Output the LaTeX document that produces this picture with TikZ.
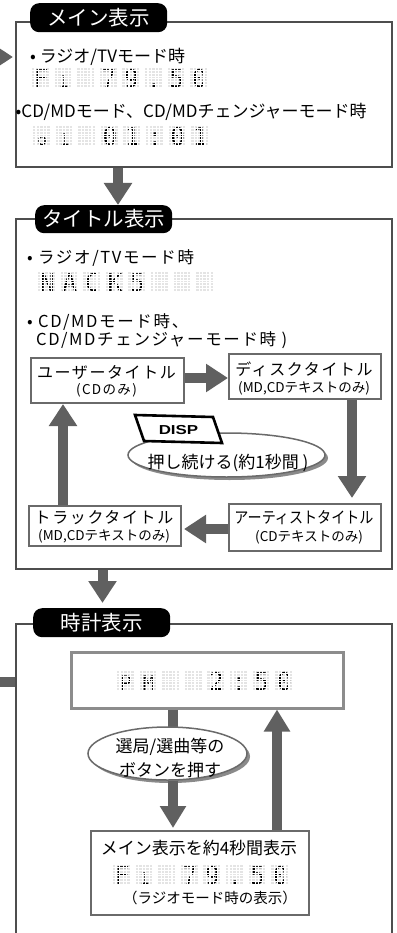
\documentclass[tikz,border=0pt]{standalone}
\usepackage{fontspec}
\setmainfont{Noto Sans CJK JP}
\newfontfamily\jpt[LetterSpace=10]{Noto Sans CJK JP}
\newfontfamily\dmfont{DejaVu Sans Mono}
\newfontfamily\keyfont{Liberation Sans}
\usetikzlibrary{arrows.meta,shapes.geometric}
\definecolor{boxgray}{HTML}{4E4E4E}
\definecolor{ingray}{HTML}{6A6A6A}
\definecolor{arrgray}{HTML}{606060}
\definecolor{dotgray}{HTML}{E4E4E4}
\definecolor{dispgray}{HTML}{8C8C8C}
\definecolor{shadgray}{HTML}{8A8A8A}
\newcommand\fsz[1]{\fontsize{#1}{#1}\selectfont}
\newcommand\dmc[1]{\makebox[22.6pt][l]{\makebox[18pt][c]{#1}}}
\newcommand\dms[1]{\dmc{\fontsize{16}{16}\selectfont #1}}
\newcommand\dmgrid[3]{%
  \foreach \i in {1,...,#3}{\foreach \c in {0,...,4}{\foreach \r in {0,...,6}{%
    \fill[dotgray] ({#1+(\i-1)*22.6+\c*3.6},{#2+\r*2.86}) rectangle ++(2.4,1.9);}}}}
\newcommand\dmmask[3]{%
  \foreach \i in {1,...,#3}{\foreach \c in {0,...,5}{%
    \fill[white] ({#1+(\i-1)*22.6+\c*3.6-1.2},{#2-1}) rectangle ++(1.2,22);}}%
  \foreach \r in {0,...,7}{%
    \fill[white] ({#1-1},{#2+\r*2.86-0.96}) rectangle ++({#3*22.6+2},0.96);}}
\tikzset{
  bigbox/.style={draw=boxgray, line width=2pt, fill=white, inner sep=0, anchor=north west},
  inbox/.style={draw=ingray, line width=2pt, fill=white, inner sep=0, anchor=north west},
  tab/.style={fill=black, rounded corners=9pt, text=white, font=\fsz{20.5}, inner sep=0, anchor=north west},
  txt/.style={inner sep=0, anchor=west},
  ctxt/.style={inner sep=0},
  dm/.style={inner sep=0, anchor=base west, font=\dmfont\fsz{24.5}, text=black},
  fat/.style={draw=arrgray, line width=10pt, -{Triangle[width=27pt,length=22pt]}},
  fatsm/.style={draw=arrgray, line width=10pt, -{Triangle[width=25pt,length=22pt]}},
  fatline/.style={draw=arrgray, line width=10pt},
  ell/.style={ellipse, draw=ingray, line width=1.5pt, fill=white, inner sep=0},
  ellshadow/.style={ellipse, fill=shadgray, inner sep=0},
}
\begin{document}
\begin{tikzpicture}[x=1pt,y=-1pt]
\useasboundingbox (0,0) rectangle (396,933);
\fill[white] (0,0) rectangle (396,933);
\clip (0,0) rectangle (396,933);

% ---------- main display ----------
\node[bigbox, minimum width=376, minimum height=145] (mainbox) at (15,21) {};
\node[tab, minimum width=137, minimum height=29] (maintab) at (30,3) {メイン表示};
\node[txt, font=\fsz{17}] (m1) at (30,57) {• ラジオ/TVモード時};
\dmgrid{32}{68}{8}
\node[dm] (d1) at (32,87.3) {\dmc{F}\dms{1}\dmc{}\dmc{7}\dmc{9}\dmc{.}\dmc{5}\dmc{0}};
\dmmask{32}{68}{8}
\node[txt, font=\fsz{17}] (m2) at (15.5,112) {•CD/MDモード、CD/MDチェンジャーモード時};
\dmgrid{33}{126}{8}
\node[dm] (d2) at (33,145.3) {\dms{o}\dms{1}\dmc{}\dmc{0}\dmc{1}\dmc{:}\dmc{0}\dmc{1}};
\dmmask{33}{126}{8}

% ---------- title display ----------
\node[bigbox, minimum width=376, minimum height=350] (titlebox) at (15,218) {};
\node[tab, minimum width=137, minimum height=28] (titletab) at (35,205) {タイトル表示};
\node[txt, font=\jpt\fsz{16.5}] (t1) at (27,258) {• ラジオ/TVモード時};
\dmgrid{38}{272}{8}
\node[dm] (d3) at (38,291.3) {\dmc{N}\dmc{A}\dmc{C}\dmc{K}\dmc{5}\dmc{}\dmc{}\dmc{}};
\dmmask{38}{272}{8}
\node[txt, font=\jpt\fsz{16.5}] (t2) at (27,322) {• CD/MDモード時、};
\node[txt, font=\jpt\fsz{16.5}] (t3) at (36,340) {CD/MDチェンジャーモード時 )};

\node[inbox, minimum width=153, minimum height=45] (userbox) at (30,357) {};
\node[ctxt, font=\jpt\fsz{16}] (u1) at (106.5,372) {ユーザータイトル};
\node[ctxt, font=\jpt\fsz{13.5}] (u2) at (106.5,390) {(CDのみ)};
\node[inbox, minimum width=152, minimum height=45] (diskbox) at (228,353) {};
\node[ctxt, font=\jpt\fsz{16}] (k1) at (304,369) {ディスクタイトル};
\node[ctxt, font=\fsz{13.5}] (k2) at (304,388) {(MD,CDテキストのみ)};
\node[inbox, minimum width=152, minimum height=47] (artistbox) at (228,503) {};
\node[ctxt, font=\fsz{16}] (a1) at (304,518) {\scalebox{0.88}[1]{アーティストタイトル}};
\node[ctxt, font=\fsz{13.5}] (a2) at (309,537) {(CDテキストのみ)};
\node[inbox, minimum width=152, minimum height=40] (trackbox) at (28,505) {};
\node[ctxt, font=\jpt\fsz{16}] (r1) at (104,518) {トラックタイトル};
\node[ctxt, font=\fsz{13.5}] (r2) at (104,536) {(MD,CDテキストのみ)};

\node[ellshadow, minimum width=197, minimum height=44] (ell1s) at (229.5,458) {};
\node[ell, minimum width=197, minimum height=44] (ell1) at (226.5,455) {};
\node[ctxt, font=\fsz{17}] (e1) at (228,463) {押し続ける(約1秒間 )};
\draw[line width=2.6pt, fill=white, line join=miter] (135,415) -- (213,417) -- (222,443) -- (144,441) -- cycle;
\node[ctxt, font=\keyfont\bfseries\fsz{13}] (disp) at (178.5,430) {\scalebox{1.3}[1]{DISP}};

% ---------- clock display ----------
\node[bigbox, minimum width=376, minimum height=340] (clockbox) at (15,623) {};
\node[tab, minimum width=137, minimum height=29] (clocktab) at (33,608) {時計表示};
\node[draw=dispgray, line width=2.5pt, fill=white, inner sep=0, anchor=north west, minimum width=272, minimum height=56] (dispbox) at (70,651) {};
\dmgrid{117}{671}{8}
\node[dm] (d4) at (117,690.3) {\dmc{\fsz{20}P}\dmc{\fsz{20}M}\dmc{}\dmc{}\dmc{2}\dmc{:}\dmc{5}\dmc{0}};
\dmmask{117}{671}{8}

\node[inbox, minimum width=218, minimum height=84] (main4box) at (90,830) {};
\node[ctxt, font=\fsz{17}] (f1) at (199,848) {メイン表示を約4秒間表示};
\dmgrid{113}{865}{8}
\node[dm] (d5) at (113,884.3) {\dmc{F}\dms{1}\dmc{}\dmc{7}\dmc{9}\dmc{.}\dmc{5}\dmc{0}};
\dmmask{113}{865}{8}
\node[ctxt, font=\fsz{14.5}] (f2) at (210,898) {（ラジオモード時の表示）};

% ---------- connectors ----------
\coordinate (xa) at (118,0);
\coordinate (ya) at (0,378);
\coordinate (xb) at (352,0);
\coordinate (yc) at (0,529);
\coordinate (xd) at (63,0);
\coordinate (xe) at (102.5,0);
\coordinate (xf) at (173,0);
\coordinate (xg) at (277,0);
\coordinate (lin) at (-20,57);
\coordinate (lout) at (-5,682);
\coordinate (yf) at (0,733);

\draw[fat] (mainbox.south -| xa) -- (titletab.north -| xa);
\draw[fat] (userbox.east |- ya) -- (diskbox.west |- ya);
\draw[fat, shorten >=5pt] (diskbox.south -| xb) -- (artistbox.north -| xb);
\draw[fat, shorten >=2pt] (artistbox.west |- yc) -- (trackbox.east |- yc);
\draw[fat] (trackbox.north -| xd) -- (userbox.south -| xd);
\draw[fat, shorten >=5pt] (titlebox.south -| xe) -- (clocktab.north -| xe);
\draw[fat, shorten >=2pt] (lin) -- (mainbox.west |- lin);
\draw[fatline] (clockbox.west |- lout) -- (lout);

\draw[fatline] (dispbox.south -| xf) -- (xf |- yf);
\node[ellshadow, minimum width=159, minimum height=53] (ell2s) at (170.5,756.5) {};
\node[ell, minimum width=159, minimum height=53] (ell2) at (167.5,753.5) {};
\node[ctxt, font=\fsz{17}] (g1) at (170,747) {選局/選曲等の};
\node[ctxt, font=\fsz{17}] (g2) at (170,770) {ボタンを押す};
\draw[fatsm, shorten >=2pt] (ell2.south -| xf) -- (main4box.north -| xf);
\draw[fatsm] (main4box.north -| xg) -- (dispbox.south -| xg);
\end{tikzpicture}
\end{document}
